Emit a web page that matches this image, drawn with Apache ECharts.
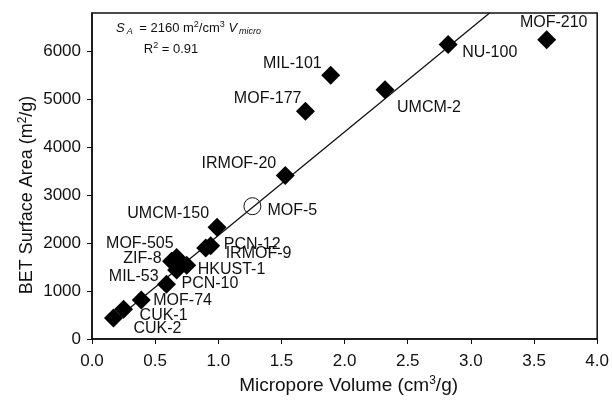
<!DOCTYPE html>
<html>
<head>
<meta charset="utf-8">
<script src="https://cdn.jsdelivr.net/npm/echarts@6/dist/echarts.min.js"></script>
<style>
  html, body { margin: 0; padding: 0; background: #fff; }
  #chart { width: 612px; height: 403px; }
</style>
</head>
<body>
<div id="chart"></div>
<script>
// Micropore volume (cm3/g) and BET surface area (m2/g) for each framework
const names = ['MOF-210', 'NU-100', 'MIL-101', 'MOF-177', 'UMCM-2', 'IRMOF-20',
  'UMCM-150', 'PCN-12', 'IRMOF-9', 'HKUST-1', 'PCN-10', 'MOF-505', 'ZIF-8',
  'MIL-53', 'MOF-74', 'CUK-1', 'CUK-2'];
const microporeVolume = [3.60, 2.82, 1.89, 1.69, 2.32, 1.53,
  0.99, 0.94, 0.90, 0.75, 0.59, 0.67, 0.63,
  0.67, 0.39, 0.25, 0.17];
const betArea = [6240, 6143, 5500, 4750, 5200, 3409,
  2330, 1943, 1896, 1540, 1140, 1700, 1620,
  1440, 815, 620, 440];

// MOF-5 drawn as an open circle
const openName = ['MOF-5'];
const openVolume = [1.27];
const openArea = [2770];

// Linear fit through the origin: S_A = 2160 m2/cm3 * V_micro
const fitSlope = 2160;
const fitStart = 0.15;

const xTicks = [0, 0.5, 1.0, 1.5, 2.0, 2.5, 3.0, 3.5, 4.0];
const yTicks = [0, 1000, 2000, 3000, 4000, 5000, 6000];
const yMax = 6800;

// label placement for each framework: [align, dx, dy] around the marker centre
const labelPlace = {
  'MOF-210': ['center', 7, -17],
  'NU-100': ['left', 14, 8],
  'MIL-101': ['right', -9, -12],
  'MOF-177': ['right', -4, -13],
  'UMCM-2': ['left', 12, 18],
  'IRMOF-20': ['right', -9, -12],
  'MOF-5': ['left', 15, 4],
  'UMCM-150': ['right', -8, -14],
  'PCN-12': ['left', 13, -1],
  'IRMOF-9': ['left', 20, 5],
  'HKUST-1': ['left', 11, 4],
  'PCN-10': ['left', 15, -1],
  'MOF-505': ['right', -3, -14],
  'ZIF-8': ['right', -10, -3],
  'MIL-53': ['right', -18, 7],
  'MOF-74': ['left', 12, 1],
  'CUK-1': ['left', 16, 6],
  'CUK-2': ['left', 20, 11]
};

const FONT = '"Liberation Sans", Arial, Helvetica, sans-serif';
const INK = '#111';

function pointItem(name, x, y) {
  const p = labelPlace[name];
  return {
    name: name,
    value: [x, y],
    label: {
      show: true,
      position: 'inside',
      align: p[0],
      verticalAlign: 'middle',
      offset: [p[1], p[2]],
      formatter: name,
      color: INK,
      fontSize: 16,
      fontFamily: FONT
    }
  };
}

const filled = names.map((n, i) => pointItem(n, microporeVolume[i], betArea[i]));
const open = openName.map((n, i) => pointItem(n, openVolume[i], openArea[i]));

const fitEnd = yMax / fitSlope;
const fitLine = [[fitStart, fitSlope * fitStart], [fitEnd, fitSlope * fitEnd]];

const chart = echarts.init(document.getElementById('chart'), null, { renderer: 'canvas' });

const option = {
  animation: false,
  backgroundColor: '#fff',
  grid: {
    left: 92, right: 12, top: 13, bottom: 64,
    show: true, borderColor: INK, borderWidth: 1.5, backgroundColor: 'transparent'
  },
  xAxis: {
    type: 'value',
    min: 0, max: 4, interval: 0.5,
    axisLine: { show: true, lineStyle: { color: INK, width: 1.5 } },
    axisTick: { show: true, inside: false, length: 5, lineStyle: { color: INK, width: 1 } },
    axisLabel: {
      color: INK, fontSize: 17, fontFamily: FONT, margin: 14,
      formatter: v => v.toFixed(1)
    },
    splitLine: { show: false },
    name: '{t|Micropore Volume (cm}{s|3}{t|/g)}',
    nameLocation: 'middle',
    nameGap: 35,
    nameTextStyle: {
      padding: [0, 0, 0, 8],
      rich: {
        t: { fontSize: 19, fontFamily: FONT, color: INK },
        s: { fontSize: 12, fontFamily: FONT, color: INK, verticalAlign: 'top', padding: [0, 0, 10, 0] }
      }
    }
  },
  yAxis: {
    type: 'value',
    min: 0, max: yMax,
    axisLine: { show: true, lineStyle: { color: INK, width: 1.5 } },
    axisTick: { show: true, inside: false, length: 5, customValues: yTicks, lineStyle: { color: INK, width: 1 } },
    axisLabel: {
      color: INK, fontSize: 17, fontFamily: FONT, margin: 11, customValues: yTicks,
      formatter: v => String(v)
    },
    splitLine: { show: false }
  },
  graphic: [
    {
      type: 'text',
      x: 27, y: 195,
      rotation: Math.PI / 2,
      style: {
        text: '{t|BET Surface Area (m}{s|2}{t|/g)}',
        align: 'center', verticalAlign: 'middle',
        rich: {
          t: { fontSize: 18, fontFamily: FONT, fill: INK },
          s: { fontSize: 12, fontFamily: FONT, fill: INK, verticalAlign: 'top', padding: [0, 0, 9, 0] }
        }
      }
    },
    {
      type: 'text',
      x: 116, y: 28,
      style: {
        text: '{i|S}{sub|A}{t| = 2160 m}{sup|2}{t|/cm}{sup|3}{t| }{i|V}{subi|micro}',
        align: 'left', verticalAlign: 'middle',
        rich: {
          t: { fontSize: 13, fontFamily: FONT, fill: INK },
          i: { fontSize: 13, fontFamily: FONT, fontStyle: 'italic', fill: INK },
          sub: { fontSize: 9, fontFamily: FONT, fontStyle: 'italic', fill: INK, padding: [6, 3, 0, 2] },
          subi: { fontSize: 9, fontFamily: FONT, fontStyle: 'italic', fill: INK, padding: [6, 0, 0, 2] },
          sup: { fontSize: 9, fontFamily: FONT, fill: INK, padding: [0, 0, 6, 0] }
        }
      }
    },
    {
      type: 'text',
      x: 171, y: 49,
      style: {
        text: '{t|R}{sup|2}{t| = 0.91}',
        align: 'center', verticalAlign: 'middle',
        rich: {
          t: { fontSize: 13, fontFamily: FONT, fill: INK },
          sup: { fontSize: 9, fontFamily: FONT, fill: INK, padding: [0, 0, 6, 0] }
        }
      }
    }
  ],
  series: [
    {
      type: 'line',
      data: fitLine,
      symbol: 'none',
      lineStyle: { color: INK, width: 1.3 },
      z: 1,
      silent: true
    },
    {
      type: 'scatter',
      data: filled,
      symbol: 'diamond',
      symbolSize: [19, 19],
      itemStyle: { color: '#000', opacity: 1, borderWidth: 0 },
      z: 3
    },
    {
      type: 'scatter',
      data: open,
      symbol: 'circle',
      symbolSize: 17,
      itemStyle: { color: 'rgba(0,0,0,0)', opacity: 1, borderColor: INK, borderWidth: 1 },
      z: 3
    }
  ]
};

chart.setOption(option);
</script>
</body>
</html>
